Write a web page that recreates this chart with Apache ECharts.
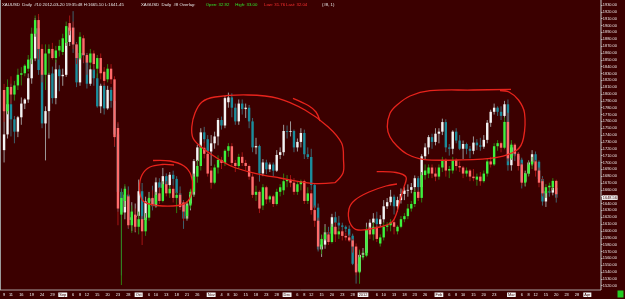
<!DOCTYPE html>
<html><head><meta charset="utf-8">
<script src="https://cdn.jsdelivr.net/npm/echarts@6/dist/echarts.min.js"></script>
<style>html,body{margin:0;padding:0;background:#3b0000;}#c{width:625px;height:299px;}</style>
</head><body><div id="c"></div>
<script>
// XAUUSD daily (main) — open, high, low, close
const goldO=[1718,1741,1785,1763,1745,1766,1786,1792,1823,1852,1896,1835,1757,1775,1830,1794,1836,1826,1828,1876,1897,1872,1817,1860,1856,1815,1836,1823,1782,1812,1779,1806,1790,1741,1657,1627,1653,1616,1620,1622,1658,1616,1643,1647,1636,1671,1663,1680,1667,1682,1676,1655,1641,1618,1640,1653,1702,1722,1744,1734,1716,1728,1738,1762,1754,1788,1795,1780,1760,1786,1778,1780,1760,1722,1724,1684,1700,1690,1697,1688,1711,1715,1746,1745,1746,1722,1730,1743,1712,1708,1667,1634,1573,1580,1598,1596,1620,1612,1608,1606,1603,1593,1552,1541,1565,1568,1602,1612,1618,1610,1617,1636,1642,1650,1636,1645,1654,1659,1660,1664,1677,1664,1709,1722,1737,1730,1742,1745,1759,1722,1720,1745,1732,1720,1727,1720,1717,1729,1725,1723,1733,1758,1774,1780,1774,1768,1785,1696,1722,1710,1704,1672,1684,1700,1712,1701,1676,1643,1658,1656,1663];
const goldH=[1778,1790,1815,1768,1768,1795,1794,1830,1878,1911,1913,1840,1782,1831,1840,1850,1842,1837,1882,1900,1921,1876,1866,1880,1860,1842,1842,1830,1815,1815,1812,1810,1792,1757,1662,1665,1665,1642,1640,1675,1670,1650,1657,1666,1678,1677,1692,1684,1686,1688,1680,1665,1645,1643,1660,1705,1726,1750,1752,1740,1740,1745,1765,1767,1797,1802,1801,1786,1792,1792,1786,1784,1765,1736,1726,1705,1704,1700,1700,1718,1722,1755,1754,1760,1748,1735,1750,1748,1722,1720,1670,1640,1594,1610,1606,1625,1628,1622,1612,1608,1608,1596,1564,1570,1575,1612,1617,1626,1628,1623,1645,1648,1660,1653,1650,1662,1664,1668,1670,1681,1680,1712,1728,1740,1742,1750,1750,1764,1763,1727,1747,1750,1740,1732,1729,1724,1738,1734,1736,1740,1762,1777,1786,1782,1782,1790,1792,1728,1726,1715,1707,1688,1703,1718,1716,1703,1680,1664,1664,1668,1665.10];
const goldL=[1700,1735,1738,1728,1737,1755,1778,1787,1815,1848,1828,1750,1703,1735,1786,1785,1804,1812,1825,1870,1860,1810,1812,1845,1808,1812,1812,1780,1772,1770,1777,1780,1723,1628,1535,1617,1603,1600,1598,1617,1600,1609,1625,1630,1634,1654,1660,1655,1662,1666,1646,1634,1603,1615,1630,1650,1690,1710,1728,1705,1695,1720,1725,1748,1750,1780,1766,1755,1755,1770,1765,1750,1715,1712,1672,1680,1683,1686,1680,1686,1705,1710,1735,1738,1715,1716,1722,1705,1705,1660,1630,1570,1562,1574,1586,1590,1601,1603,1598,1598,1590,1550,1523,1538,1560,1565,1595,1598,1606,1606,1612,1632,1637,1624,1628,1640,1645,1650,1655,1658,1657,1650,1705,1712,1720,1725,1728,1740,1715,1710,1712,1728,1718,1705,1712,1706,1712,1718,1717,1720,1728,1752,1770,1768,1762,1765,1688,1688,1702,1698,1662,1665,1680,1695,1696,1672,1637,1635,1650,1652,1641.45];
const goldC=[1741,1785,1763,1745,1766,1786,1792,1823,1852,1896,1835,1757,1775,1828,1794,1836,1826,1828,1876,1897,1872,1817,1860,1856,1815,1836,1823,1782,1812,1779,1806,1790,1741,1657,1627,1653,1616,1620,1622,1658,1616,1643,1647,1636,1671,1663,1680,1667,1682,1676,1655,1641,1618,1640,1653,1702,1722,1744,1734,1716,1728,1738,1762,1754,1794,1795,1780,1760,1786,1778,1780,1760,1722,1724,1684,1700,1690,1697,1688,1711,1715,1746,1745,1746,1722,1730,1743,1712,1708,1667,1634,1573,1580,1598,1596,1620,1612,1608,1606,1603,1593,1552,1541,1565,1568,1602,1612,1618,1610,1617,1636,1642,1650,1636,1645,1654,1659,1660,1664,1677,1664,1709,1722,1737,1730,1742,1745,1759,1722,1720,1745,1732,1720,1727,1720,1717,1729,1725,1723,1733,1758,1774,1780,1774,1768,1785,1696,1722,1710,1704,1672,1684,1700,1712,1701,1676,1643,1658,1656,1663,1648.56];
// XAGUSD daily overlay — open, high, low, close
const silverO=[38.9,37.5,39.1,38.6,39.2,39.9,40.0,40.3,40.9,42.6,43.5,41.6,39.9,41.3,41.6,41.0,41.5,41.4,42.0,43.3,43.0,41.9,41.0,42.3,41.2,40.7,41.3,40.3,41.0,40.1,39.6,40.3,39.6,36.4,30.7,31.6,31.9,30.0,30.7,29.9,30.4,29.6,30.5,31.8,31.4,32.1,31.6,32.7,32.1,32.4,31.8,32.0,31.5,30.6,31.3,32.2,33.2,33.9,35.1,34.7,33.6,32.8,33.8,34.3,34.1,34.9,35.2,34.1,33.9,34.5,34.1,33.9,33.2,32.0,32.2,31.3,32.5,31.7,31.9,31.4,32.2,32.3,32.9,33.0,32.8,32.2,32.7,32.9,31.6,32.1,31.0,30.3,28.6,29.1,29.4,28.9,29.9,29.4,29.6,29.3,29.2,29.0,28.6,26.9,27.9,28.0,29.7,29.4,29.9,28.8,29.2,29.9,30.0,30.2,29.6,29.9,30.4,30.6,31.1,31.4,32.2,31.8,33.3,33.4,33.8,33.4,33.2,33.8,34.3,33.6,33.6,34.3,33.9,33.8,33.4,33.6,33.2,33.0,33.2,32.9,33.4,34.2,34.0,35.2,35.4,35.1,36.8,34.4,35.3,34.7,34.0,32.8,33.4,34.0,34.2,33.6,32.9,32.1,32.5,32.5,32.92];
const silverH=[39.3,39.6,39.8,39.5,40.3,40.4,40.6,41.2,43.0,43.8,43.9,41.9,41.9,41.9,42.0,41.8,42.2,42.6,43.4,43.8,43.4,42.0,42.7,42.5,41.3,41.6,41.5,41.2,41.3,40.4,40.6,40.6,39.8,36.8,32.2,32.7,32.3,31.3,31.1,30.9,30.6,30.8,32.1,32.3,32.2,32.5,32.9,32.9,32.6,32.6,32.2,32.3,31.6,31.6,32.4,33.4,34.3,35.3,35.5,34.9,33.8,34.0,34.6,34.5,35.0,35.4,35.4,34.3,34.7,34.8,34.3,34.0,33.4,32.6,32.3,32.7,32.6,32.0,32.0,32.4,32.7,33.4,33.3,33.3,33.1,32.9,33.0,33.0,32.5,32.3,31.3,30.5,29.4,29.9,29.6,30.1,30.2,29.8,29.7,29.5,29.4,29.1,28.8,28.4,28.3,29.9,29.9,30.2,30.0,29.4,30.2,30.2,30.4,30.4,30.0,30.6,30.8,31.4,31.6,32.4,32.3,33.5,34.0,34.0,34.0,33.8,34.0,34.5,34.4,33.9,34.5,34.4,34.2,33.9,33.8,33.7,33.7,33.4,33.5,33.6,34.4,34.5,35.4,35.6,35.5,37.1,37.4,35.6,35.4,34.8,34.1,33.5,34.2,34.5,34.3,33.8,33.1,32.7,32.8,33.1,33.00];
const silverL=[36.8,37.3,38.0,38.2,38.9,39.2,39.8,40.1,40.6,42.4,40.9,39.4,38.9,40.0,40.9,40.7,41.1,41.2,41.8,42.5,41.6,40.6,40.9,40.7,39.9,40.3,40.2,39.7,39.6,39.2,39.4,39.3,35.2,30.0,26.07,31.2,29.8,29.5,29.6,29.4,28.7,29.3,30.3,31.2,31.2,31.4,31.5,31.9,31.8,31.5,30.8,31.0,30.3,30.4,31.1,31.9,32.8,33.6,34.4,33.2,32.4,32.7,33.4,33.7,33.9,34.5,33.9,33.5,33.7,33.9,33.6,33.0,31.8,31.6,30.8,31.0,31.4,31.5,31.2,31.3,31.9,32.0,32.5,32.5,32.0,32.0,32.3,31.4,31.4,30.7,29.9,28.4,28.1,29.0,28.7,28.8,28.9,29.1,29.0,29.0,28.9,28.2,26.7,26.15,27.7,27.9,29.1,29.0,28.9,28.6,29.0,29.6,29.6,29.4,29.4,29.8,30.2,30.4,30.9,31.2,31.6,31.5,33.0,33.1,33.1,32.9,33.0,33.5,33.2,33.1,33.4,33.6,33.5,33.1,33.2,32.9,32.9,32.6,32.6,32.8,33.2,33.8,33.9,34.9,34.8,35.0,34.2,34.3,34.5,33.6,32.6,32.6,33.2,33.7,33.2,32.5,31.9,31.8,32.2,32.3,31.76];
const silverC=[37.5,39.1,38.6,39.2,39.9,40.0,40.5,40.9,42.6,43.5,41.6,39.9,41.3,41.6,41.0,41.5,41.8,42.3,43.1,42.8,41.9,41.0,42.4,41.2,40.7,41.3,40.6,41.0,40.0,39.5,40.3,39.6,35.8,31.1,31.8,32.4,30.0,30.9,29.9,30.4,29.6,30.5,31.8,31.4,32.0,31.6,32.7,32.1,32.4,31.8,32.0,31.2,30.9,31.3,32.2,33.2,33.9,35.1,34.7,33.4,32.8,33.8,34.3,34.1,34.9,35.2,34.1,33.9,34.5,34.1,33.9,33.2,32.0,32.2,31.1,32.5,31.7,31.9,31.4,32.2,32.5,32.9,33.0,32.8,32.2,32.7,32.9,31.6,32.1,31.0,30.3,28.6,29.1,29.4,28.9,29.9,29.4,29.6,29.3,29.2,29.0,28.6,26.9,27.9,28.0,29.7,29.4,29.9,29.1,29.2,29.9,30.0,30.2,29.9,29.9,30.4,30.6,31.1,31.4,32.2,31.8,33.3,33.6,33.8,33.4,33.2,33.8,34.3,33.6,33.7,34.3,33.9,33.8,33.4,33.6,33.2,33.1,33.2,32.9,33.4,34.2,34.0,35.2,35.4,35.1,36.8,34.4,35.3,34.7,33.9,32.8,33.4,34.0,34.2,33.6,32.8,32.1,32.5,32.6,32.92,32.04];
// x-axis tick labels (bar slot index -> text)
const tickIdx=[0,2,5,8,11,14,17,20,22,24,27,30,33,36,39,42,44,47,50,53,56,60,63,65,67,70,73,76,79,82,85,87,89,92,95,98,101,104,108,110,113,116,119,122,126,129,131,133,136,139,142,147,150,152,154,157,160,163,166,169];
const tickText=['9','11','16','19','24','29','Sep','6','8','12','15','20','23','28','Oct','6','10','13','18','21','26','Nov','4','8','10','15','18','23','28','Dec','6','8','12','15','20','23','28','2012','6','10','13','18','23','26','Feb','6','8','10','15','20','23','Mar','6','8','12','15','20','23','28','Apr'];
const boxedLabels=['Sep','Oct','Nov','Dec','2012','Feb','Mar','Apr'];
const yMin=1520, yMax=1930, yStep=10;
const silverMin=26.024, silverMax=44.49;
const lastPrice=1648.56;
const slotCount=173;

const BG='#3b0000';
const categories=Array.from({length:slotCount},(_,i)=>String(i));
const labelMap={};tickIdx.forEach((k,j)=>labelMap[k]=tickText[j]);
const goldData=goldO.map((o,i)=>[i,o,goldH[i],goldL[i],goldC[i]]);
const silverData=silverO.map((o,i)=>[i,o,silverH[i],silverL[i],silverC[i]]);

function candle(upFill,downFill,upWick,downWick,bw){
  return function(params,api){
    const i=api.value(0),o=api.value(1),h=api.value(2),l=api.value(3),c=api.value(4);
    const pO=api.coord([i,o]),pC=api.coord([i,c]),pH=api.coord([i,h]),pL=api.coord([i,l]);
    const x=pO[0];const up=c>=o;
    const top=Math.min(pO[1],pC[1]),bot=Math.max(pO[1],pC[1]);
    return {type:'group',children:[
      {type:'line',shape:{x1:x,y1:pH[1],x2:x,y2:pL[1]},style:{stroke:up?upWick:downWick,lineWidth:0.9}},
      {type:'rect',shape:{x:x-bw/2,y:top,width:bw,height:Math.max(bot-top,0.8)},style:{fill:up?upFill:downFill}}
    ]};
  };
}

// hand-drawn annotation strokes (pixel space)
const ring1=[[153,160.5],[170,161],[184,166],[191,175],[192.5,188],[188,201],[178,205.5],[157,205.5],[143,201],[139.5,188],[142,175],[150,167],[162,164.5],[174,165]];
const ring2=[[335,182.7],[312,183.3],[280,178],[255,173.3],[232,166.5],[213,155.5],[200,146],[193,138],[191.8,126.7],[195,113],[202,102],[215,97],[248,95],[278,98.3],[305,110],[328,126.7],[341.7,143.3],[343.5,160],[343,173],[335,182.7]];
const ring2b=[[293,98.3],[308.3,105.5],[316,112],[320,121]];
const ring3=[[376.7,171.7],[396,172.5],[406,177],[404,187],[400,200],[397,212],[392,222],[380,227],[358,230],[350,223],[349,209],[355,200],[369,192],[386,186],[397,184]];
const ring4=[[511,89.3],[473,90],[430,90.7],[410,96],[397,105],[390,113.3],[387.3,126.7],[390,137],[397,146],[407,154],[423,159.3],[457,160],[497,157.3],[517,150],[523.5,138],[524.5,113],[518.5,100],[509,92],[500,90.5]];
function ring(id,pts){return {id:id,type:'polyline',shape:{points:pts,smooth:0.35},style:{stroke:'#e8231c',lineWidth:1.3,fill:null},z:100};}

const hdr=(id,x,text,color)=>({id:id,type:'text',x:x,y:5,style:{text:text,fill:color,font:'4.3px "Liberation Sans", Arial, sans-serif',textVerticalAlign:'middle'},z:50});

const chart=echarts.init(document.getElementById('c'),null,{renderer:'canvas'});
chart.setOption({
  animation:false,
  backgroundColor:BG,
  grid:{left:1.9,width:597.5,top:5,height:280.7},
  xAxis:{type:'category',data:categories,boundaryGap:true,offset:4.3,
    axisLine:{show:false},axisTick:{show:false},splitLine:{show:false},
    axisLabel:{interval:0,margin:2.5,fontSize:3.9,fontFamily:'Liberation Sans',color:'#f2f2f2',
      formatter:(v,idx)=>{const t=labelMap[idx];if(t===undefined)return '';return boxedLabels.includes(t)?'{b|'+t+'}':t;},
      rich:{b:{backgroundColor:'#f4f4f4',color:BG,fontSize:3.9,fontFamily:'Liberation Sans',padding:[0.5,1,0,1]}}}},
  yAxis:[
    {type:'value',position:'right',min:yMin,max:yMax,interval:yStep,offset:1.6,
      axisLine:{show:false},splitLine:{show:false},
      axisTick:{show:true,length:1.5,lineStyle:{color:'#d0d0d0',width:0.8}},
      axisLabel:{margin:1.8,fontSize:3.9,fontFamily:'Liberation Sans',color:'#eee6e6',formatter:v=>v.toFixed(2)}},
    {type:'value',show:false,min:silverMin,max:silverMax}
  ],
  series:[
    {type:'custom',name:'XAUUSD',renderItem:candle('#f4f4f4','#1b8d9c','#a8a8a8','#3f6e7a',2.4),data:goldData,encode:{x:0,y:[1,2,3,4]},yAxisIndex:0,clip:false},
    {type:'custom',name:'XAGUSD',renderItem:candle('#3df23d','#ff6b6b','#2f8a12','#b01616',2.4),data:silverData,encode:{x:0,y:[1,2,3,4]},yAxisIndex:1,clip:false}
  ],
  graphic:[
    {id:'axR',type:'line',shape:{x1:601,y1:0,x2:601,y2:290},style:{stroke:'#c8c8c8',lineWidth:1},z:40},
    {id:'axL',type:'line',shape:{x1:0.5,y1:0,x2:0.5,y2:290},style:{stroke:'#9a9a9a',lineWidth:1},z:40},
    {id:'axB',type:'line',shape:{x1:0,y1:290,x2:601,y2:290},style:{stroke:'#c8c8c8',lineWidth:0.8},z:40},
    {id:'grn',type:'rect',shape:{x:617.5,y:290.5,width:6,height:7},style:{fill:'#22cc22'},z:40},
    hdr('h1',2,'XAUUSD  Daily  #10 2012-03-20 19:35:48 H:1665.10 L:1641.45','#e8e8e8'),
    hdr('h2',141,'XAGUSD  Daily  #8 Overlay:','#e8e8e8'),
    hdr('h3',205.7,'Open: 32.92','#2ee62e'),
    hdr('h4',235.3,'High: 33.00','#2ee62e'),
    hdr('h5',264,'Low: 31.76','#ff3030'),
    hdr('h6',286,'Last: 32.04','#ff3030'),
    hdr('h7',322,'(#8, 1)','#e8e8e8'),
    ring('r1',ring1),ring('r2',ring2),ring('r2b',ring2b),ring('r3',ring3),ring('r4',ring4)
  ]
});
const py=chart.convertToPixel({yAxisIndex:0},lastPrice);
chart.setOption({graphic:[{id:'lastBox',type:'text',x:602,y:py,z:60,style:{text:lastPrice.toFixed(2),fill:BG,backgroundColor:'#f4f4f4',padding:[0.5,0.8,0,0.8],font:'3.9px "Liberation Sans", sans-serif',textVerticalAlign:'middle'}}]});
</script></body></html>
